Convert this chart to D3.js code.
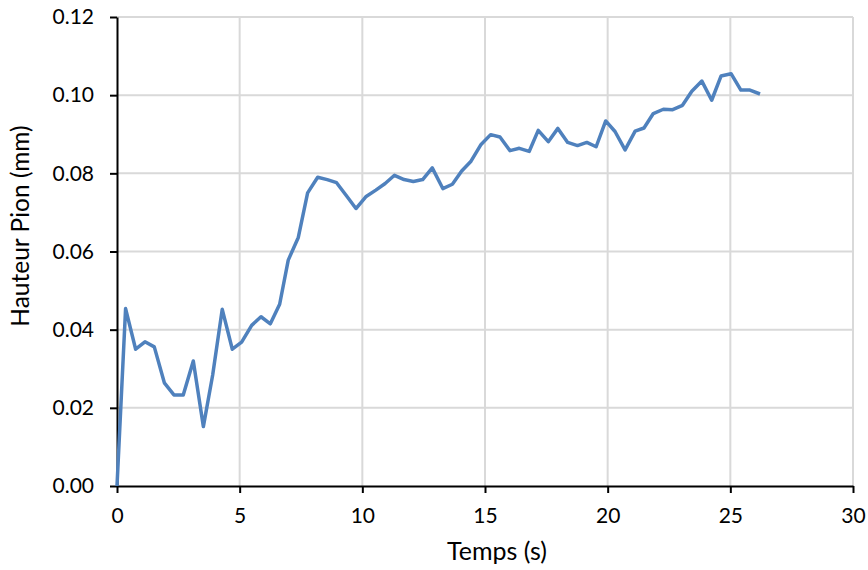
<!DOCTYPE html>
<html>
<head>
<meta charset="utf-8">
<script src="https://cdn.jsdelivr.net/npm/d3@7"></script>
<style>
  body { margin: 0; background: #fff; }
  svg { font-family: Lato, "Open Sans", sans-serif; }
</style>
</head>
<body>
<svg id="chart" width="868" height="570"></svg>
<script>
// temps (s)
var times = [0, 0.35, 0.76, 1.14, 1.52, 1.93, 2.32, 2.70, 3.11, 3.52, 3.90, 4.29, 4.70, 5.08, 5.49, 5.87,
  6.25, 6.63, 6.98, 7.39, 7.77, 8.18, 8.57, 8.95, 9.36, 9.74, 10.14, 10.55, 10.93, 11.31, 11.70, 12.08,
  12.46, 12.85, 13.28, 13.67, 14.05, 14.43, 14.84, 15.23, 15.61, 16.02, 16.40, 16.80, 17.17, 17.58,
  17.97, 18.37, 18.77, 19.15, 19.53, 19.92, 20.30, 20.71, 21.12, 21.48, 21.86, 22.27, 22.65, 23.05,
  23.43, 23.84, 24.24, 24.62, 25.03, 25.43, 25.80, 26.21];
// hauteur pion (mm)
var heights = [0, 0.0454, 0.0350, 0.0369, 0.0356, 0.0264, 0.0233, 0.0233, 0.0320, 0.0152, 0.0284, 0.0452,
  0.0350, 0.0368, 0.0411, 0.0433, 0.0415, 0.0465, 0.0578, 0.0636, 0.0750, 0.0790, 0.0784, 0.0776,
  0.0742, 0.0710, 0.0740, 0.0757, 0.0774, 0.0795, 0.0784, 0.0779, 0.0784, 0.0814, 0.0761, 0.0772,
  0.0806, 0.0831, 0.0874, 0.0899, 0.0893, 0.0858, 0.0864, 0.0856, 0.0910, 0.0881, 0.0915, 0.0879,
  0.0871, 0.0879, 0.0868, 0.0934, 0.0907, 0.0860, 0.0908, 0.0916, 0.0953, 0.0964, 0.0963, 0.0974,
  0.1010, 0.1036, 0.0987, 0.1049, 0.1055, 0.1013, 0.1013, 0.1003];

var xTicks = [0, 5, 10, 15, 20, 25, 30];
var yTicks = [0, 0.02, 0.04, 0.06, 0.08, 0.10, 0.12];

var svg = d3.select("#chart");
var plotLeft = 117, plotRight = 853, plotTop = 17, plotBottom = 486;

var x = d3.scaleLinear().domain([0, 30]).range([plotLeft, plotRight]);
var y = d3.scaleLinear().domain([0, 0.12]).range([plotBottom, plotTop]);

// grille
svg.append("g").selectAll("line").data(xTicks.slice(1)).enter().append("line")
  .attr("x1", function(d){ return x(d); }).attr("x2", function(d){ return x(d); })
  .attr("y1", plotTop).attr("y2", plotBottom)
  .style("stroke", "#d9d9d9").style("stroke-width", 2);
svg.append("g").selectAll("line").data(yTicks.slice(1)).enter().append("line")
  .attr("x1", plotLeft).attr("x2", plotRight)
  .attr("y1", function(d){ return y(d); }).attr("y2", function(d){ return y(d); })
  .style("stroke", "#d9d9d9").style("stroke-width", 2);

var xAxis = svg.append("g").attr("transform", "translate(0," + plotBottom + ")")
  .call(d3.axisBottom(x).tickValues(xTicks).tickFormat(d3.format("d")).tickSize(7).tickSizeOuter(0).tickPadding(15));
var yAxis = svg.append("g").attr("transform", "translate(" + plotLeft + ",0)")
  .call(d3.axisLeft(y).tickValues(yTicks).tickFormat(d3.format(".2f")).tickSize(7).tickSizeOuter(0).tickPadding(16));

[xAxis, yAxis].forEach(function(a){
  a.select(".domain").style("stroke", "#000").style("stroke-width", 2);
  a.selectAll(".tick line").style("stroke", "#000").style("stroke-width", 2);
  a.selectAll("text").style("font-size", "21px").style("fill", "#000")
    .style("font-family", "Lato, 'Open Sans', sans-serif");
});

var line = d3.line()
  .x(function(d, i){ return x(times[i]); })
  .y(function(d){ return y(d); });

svg.append("path").datum(heights)
  .attr("d", line)
  .style("fill", "none")
  .style("stroke", "#4f81bd")
  .style("stroke-width", 3.5)
  .style("stroke-linejoin", "round");

svg.append("text").attr("x", 497).attr("y", 560).attr("text-anchor", "middle")
  .style("font-size", "25px").text("Temps (s)");
svg.append("text").attr("transform", "translate(29,226) rotate(-90)").attr("text-anchor", "middle")
  .style("font-size", "24.5px").text("Hauteur Pion (mm)");
</script>
</body>
</html>
